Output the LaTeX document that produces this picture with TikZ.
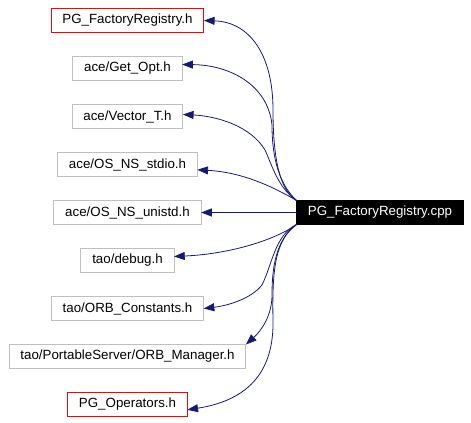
\documentclass[tikz,border=0pt]{standalone}
\usepackage{fontspec}
\setmainfont{Liberation Sans}
\usetikzlibrary{arrows.meta,positioning}
\definecolor{edgeblue}{RGB}{25,25,112}
\definecolor{boxgray}{RGB}{191,191,191}

\begin{document}
\begin{tikzpicture}[
    x=0.75pt, y=-0.75pt,
    hdr/.style={draw=boxgray, line width=0.75pt, outer sep=0pt, minimum height=18pt, inner xsep=8.5pt, font=\fontsize{10}{12}\selectfont},
    own/.style={hdr, draw=red},
    src/.style={hdr, draw=black, fill=black, text=white},
    dep/.style={-{Triangle[length=8pt,width=6pt,fill=edgeblue]}, draw=edgeblue, line width=0.6pt},
    node distance=18pt
]
\useasboundingbox (0,0) rectangle (471,423);
\node[own] (fr) at (127.5,20.5) {PG\_FactoryRegistry.h};
\node[hdr, below=of fr] (getopt) {ace/Get\_Opt.h};
\node[hdr, below=of getopt] (vect) {ace/Vector\_T.h};
\node[hdr, below=of vect] (stdio) {ace/OS\_NS\_stdio.h};
\node[hdr, below=of stdio] (unistd) {ace/OS\_NS\_unistd.h};
\node[hdr, below=of unistd] (debug) {tao/debug.h};
\node[hdr, below=of debug] (orbc) {tao/ORB\_Constants.h};
\node[hdr, below=of orbc] (orbm) {tao/PortableServer/ORB\_Manager.h};
\node[own, below=of orbm] (ops) {PG\_Operators.h};
\node[src] (cpp) at (380,212.5) {PG\_FactoryRegistry.cpp};

% includes above the source file
\draw[dep] (cpp.north west) .. controls (280,190) and (273,160) .. (273,110) .. controls (273,55) and (250,22) .. (fr.east);
\draw[dep] (cpp.north west) .. controls (280,185) and (272,160) .. (272,125) .. controls (268,85) and (230,65) .. ([yshift=3pt]getopt.east);
\draw[dep] (cpp.north west) .. controls (278,188) and (272,165) .. (265,150) .. controls (250,125) and (215,116) .. ([yshift=1.5pt]vect.east);
\draw[dep] (cpp.north west) .. controls (270,185) and (240,172) .. ([yshift=-4pt]stdio.east);
\draw[dep] (cpp.west) -- (unistd.east);
% includes below the source file
\draw[dep] (cpp.south west) .. controls (275,240) and (230,254) .. ([yshift=3pt]debug.east);
\draw[dep] (cpp.south west) .. controls (275,235) and (272,265) .. (262,285) .. controls (250,300) and (225,306) .. (orbc.east);
\draw[dep] (cpp.south west) .. controls (275,240) and (272,270) .. (272,295) .. controls (272,315) and (262,330) .. (orbm.north east);
\draw[dep] (cpp.south west) .. controls (275,240) and (272,270) .. (273,320) .. controls (274,370) and (250,400) .. ([yshift=-4pt]ops.east);
\end{tikzpicture}
\end{document}
